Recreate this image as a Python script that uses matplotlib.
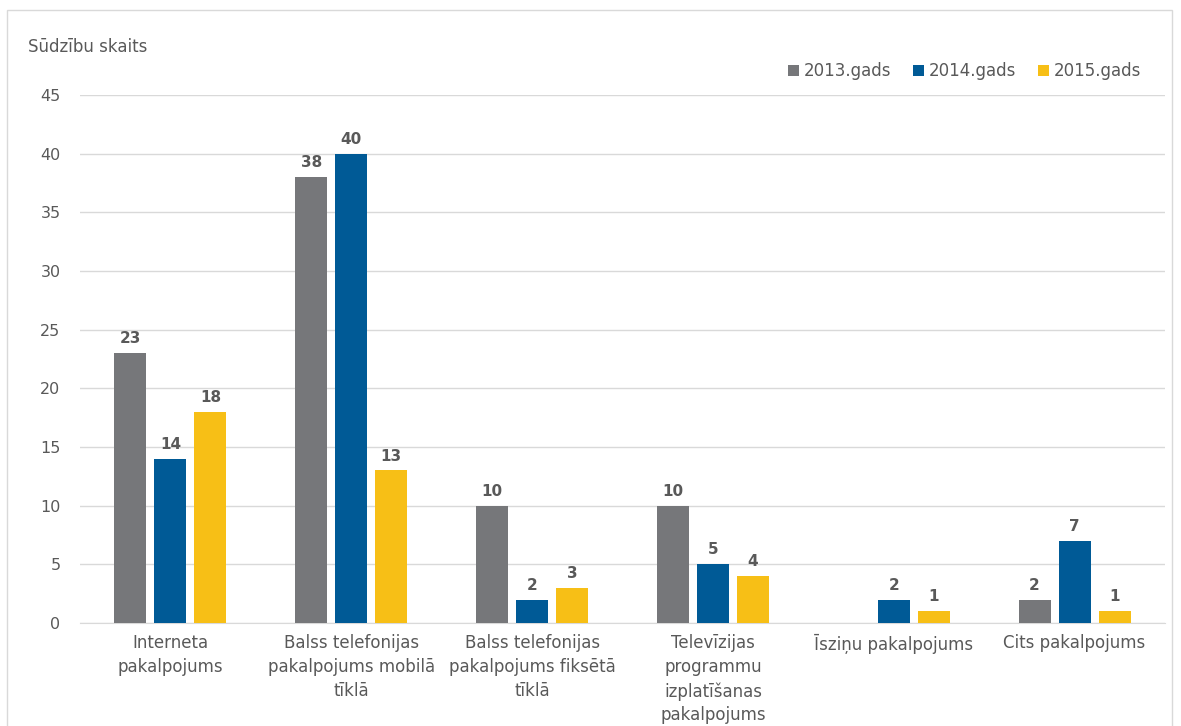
import matplotlib.pyplot as plt
import numpy as np
from matplotlib.patches import Rectangle

# ------------------ Data ------------------
categories = ['Interneta\npakalpojums',
              'Balss telefonijas\npakalpojums mobilā\ntīklā',
              'Balss telefonijas\npakalpojums fiksētā\ntīklā',
              'Televīzijas\nprogrammu\nizplatīšanas\npakalpojums',
              'Īsziņu pakalpojums',
              'Cits pakalpojums']
series_names = ['2013.gads', '2014.gads', '2015.gads']
v2013 = [23, 38, 10, 10, 0, 2]
v2014 = [14, 40, 2, 5, 2, 7]
v2015 = [18, 13, 3, 4, 1, 1]
colors = ['#76777A', '#005A96', '#F7BF16']

plt.rcParams['font.family'] = ['DejaVu Sans']
txt = '#595959'

fig = plt.figure(figsize=(11.81, 7.26), dpi=100)
ax = fig.add_axes([80 / 1181, 1 - 623 / 726, 1085 / 1181, 528 / 726])

# border around the chart
fig.patches.append(Rectangle((7 / 1181, -0.1), 1165 / 1181, 1.1 - 10 / 726,
                             transform=fig.transFigure, fill=False,
                             edgecolor='#d9d9d9', linewidth=1))

x = np.arange(len(categories))
w = 0.177
step = 0.221
for i, (vals, name) in enumerate(zip([v2013, v2014, v2015], series_names)):
    pos = x + (i - 1) * step
    ax.bar(pos, vals, width=w, color=colors[i], label=name, zorder=3)
    for p, v in zip(pos, vals):
        if v > 0:
            ax.annotate(str(v), (p, v), xytext=(0, 5), textcoords='offset points',
                        ha='center', va='bottom', fontsize=11,
                        fontweight='bold', color=txt)

ax.set_xlim(-0.5, len(categories) - 0.5)
ax.set_ylim(0, 45)
ax.set_yticks(range(0, 46, 5))
ax.yaxis.grid(True, color='#d9d9d9', linewidth=1, zorder=0)
ax.set_axisbelow(True)
for s in ['top', 'right', 'left']:
    ax.spines[s].set_visible(False)
ax.spines['bottom'].set_color('#d9d9d9')
ax.tick_params(axis='both', length=0, colors=txt, labelsize=11.5)
ax.tick_params(axis='y', pad=14)
ax.tick_params(axis='x', pad=8, labelsize=12)
ax.set_xticks(x)
ax.set_xticklabels(categories, linespacing=1.42)

fig.text(28 / 1181, 1 - 47 / 726, 'Sūdzību skaits', fontsize=12, color=txt,
         ha='left', va='center')

leg = ax.legend(loc='center right', bbox_to_anchor=((1141 - 80) / 1085, 1 + 24 / 528),
                ncol=3, frameon=False, borderpad=0, borderaxespad=0,
                fontsize=12, handlelength=0.65, handleheight=0.65, handletextpad=0.3,
                columnspacing=1.3)
for t in leg.get_texts():
    t.set_color(txt)

fig.savefig('out.png', dpi=100)
